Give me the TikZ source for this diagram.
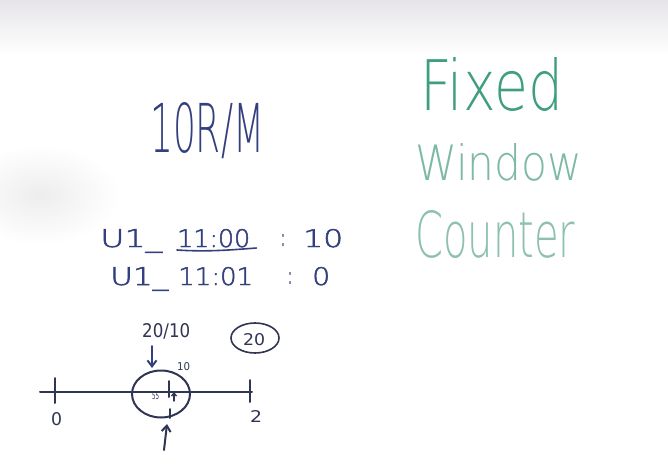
\documentclass[tikz,border=0pt]{standalone}
\usepackage{fontspec}
\usepackage{graphicx}
\newfontfamily\hand{DejaVu Sans ExtraLight}
\newfontfamily\handmid{DejaVu Sans ExtraLight}[FakeBold=2]
\newfontfamily\handsmall{DejaVu Sans}
\usetikzlibrary{arrows.meta,shapes.geometric}

\definecolor{ink}{HTML}{34407E}
\definecolor{lineink}{HTML}{2F3552}
\definecolor{greenA}{HTML}{3F9E80}
\definecolor{greenB}{HTML}{7DB9A2}
\definecolor{greenC}{HTML}{8EC0AE}
\definecolor{boardtop}{HTML}{E6E4E8}

% handwritten word squeezed into a given width and height
\newcommand\handtext[3]{\resizebox{#1pt}{#2pt}{\hand #3}}
% table writing, a little heavier
\newcommand\handmidtext[3]{\resizebox{#1pt}{#2pt}{\handmid #3}}
% smaller writing keeps a visible stroke
\newcommand\handsmalltext[3]{\resizebox{#1pt}{#2pt}{\handsmall #3}}

\tikzset{
  word/.style={inner sep=0pt, anchor=base west},
  marker/.style={line width=2pt, line cap=round, line join=round},
  barb/.style={marker, -{Straight Barb[length=6pt, width=9pt, line width=2pt]}},
  small barb/.style={marker, line width=1.4pt, -{Straight Barb[length=3pt, width=5pt]}}
}

\begin{document}
\begin{tikzpicture}[x=1pt, y=-1pt]
  \useasboundingbox (0,0) rectangle (668,465);

  % whiteboard surface
  \fill[white] (0,0) rectangle (668,465);
  \shade[top color=boardtop, bottom color=white] (0,0) rectangle (668,55);
  \shade[inner color=black!7, outer color=white] (40,195) ellipse (80 and 50);

  % rate limit
  \node[word, text=ink] (rate) at (150,152) {\handtext{114}{50}{10R/M}};

  % title
  \node[word, text=greenA] (fixed) at (420,111) {\handtext{143}{53}{Fixed}};
  \node[word, text=greenB] (window) at (415,180) {\handtext{167}{37}{Window}};
  \node[word, text=greenC] (counter) at (415,257) {\handtext{160}{47}{Counter}};

  % counter table, first row
  \node[word, text=ink] (u1a) at (100,247) {\handmidtext{62}{18}{U1\_}};
  \node[word, text=ink] (ta) at (177,247) {\handmidtext{73}{18}{11:00}};
  \node[word, text=ink] (ca) at (281,246) {\handsmalltext{4}{12}{:}};
  \node[word, text=ink] (na) at (303,247) {\handmidtext{40}{18}{10}};
  \draw[marker, ink, line width=1.6pt] ([yshift=-3pt]ta.base west) .. controls ([xshift=30pt, yshift=-5pt]ta.base west) and ([xshift=-20pt, yshift=-3pt]ta.base east) .. ([xshift=6pt, yshift=-1pt]ta.base east);

  % counter table, second row
  \node[word, text=ink] (u1b) at (110,285) {\handmidtext{58}{18}{U1\_}};
  \node[word, text=ink] (tb) at (178,285) {\handmidtext{75}{18}{11:01}};
  \node[word, text=ink] (cb) at (288,284) {\handsmalltext{4}{12}{:}};
  \node[word, text=ink] (nb) at (312,285) {\handmidtext{18}{18}{0}};

  % time line from 0 to 2
  \coordinate (lstart) at (40,392);
  \coordinate (lend) at (252,392);
  \draw[marker, lineink] (lstart) -- (lend);
  \draw[marker, lineink] (55,378) -- (55,403);
  \draw[marker, lineink] (250,380) -- (250,402);
  \draw[marker, lineink] (169,381) -- (169,397);
  \draw[marker, lineink] (170,409) -- (170,418);
  \node[word, text=lineink] (zero) at (51,425) {\handsmalltext{11}{13}{0}};
  \node[word, text=lineink] (two) at (250,422) {\handsmalltext{12}{12}{2}};

  % window around the boundary
  \node[draw=lineink, line width=2pt, ellipse, minimum width=58pt, minimum height=47pt, inner sep=0pt] (win) at (161,394) {};
  \node[word, text=lineink] (t55) at (152,399) {\handsmalltext{7}{7}{55}};
  \coordinate (up1) at (174,401);
  \coordinate (up2) at (174,392);
  \draw[small barb, lineink] (up1) -- (up2);

  % requests
  \node[word, text=lineink] (frac) at (142,337) {\handsmalltext{48}{14}{20/10}};
  \node[word, text=lineink] (ten) at (177,370) {\handsmalltext{13}{8}{10}};
  \coordinate (dtail) at (152,346);
  \coordinate (dtip) at (152,368);
  \draw[barb, ink] (dtail) -- (dtip);
  \coordinate (utail) at (164,450);
  \coordinate (utip) at (167,424);
  \draw[barb, lineink] (utail) -- (utip);

  % circled total
  \node[word, text=lineink] (total) at (243,345) {\handsmalltext{22}{12}{20}};
  \node[draw=lineink, line width=1.6pt, ellipse, minimum width=48pt, minimum height=30pt, inner sep=0pt] (totalring) at (255,338) {};
\end{tikzpicture}
\end{document}
